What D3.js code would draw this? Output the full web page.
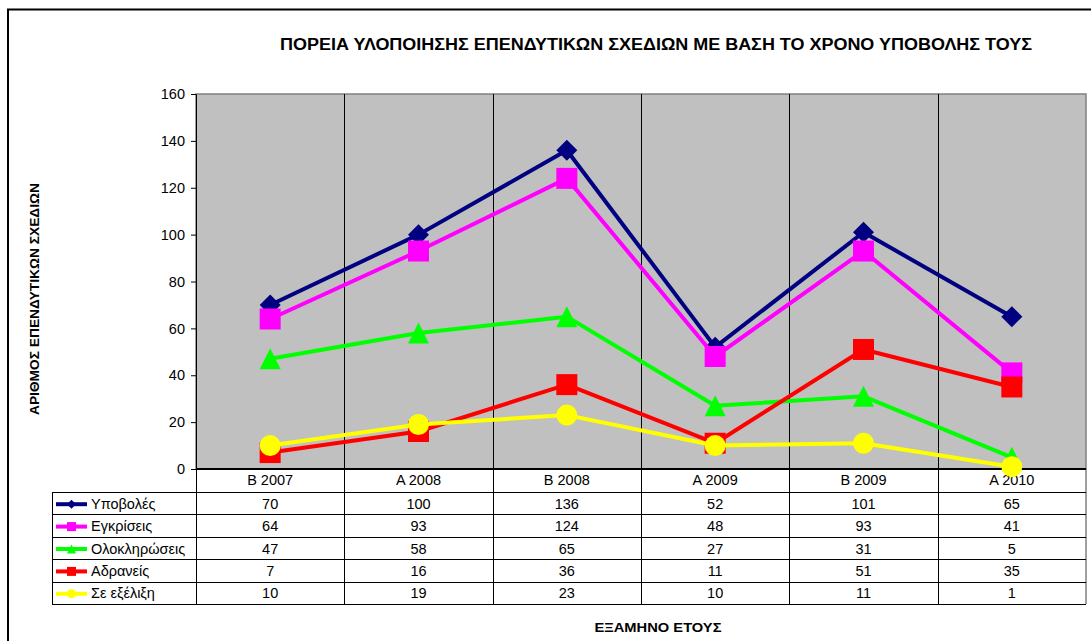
<!DOCTYPE html>
<html>
<head>
<meta charset="utf-8">
<script src="https://cdn.jsdelivr.net/npm/d3@7"></script>
<style>
  html, body { margin: 0; padding: 0; background: #fff; }
  svg { display: block; font-family: "Liberation Sans", Arial, sans-serif; }
</style>
</head>
<body>
<svg id="chart" width="1091" height="641"></svg>
<script>
// Semesters (category axis)
const categories = ["Β 2007", "Α 2008", "Β 2008", "Α 2009", "Β 2009", "Α 2010"];

// Series names, in drawing order
const seriesNames = ["Υποβολές", "Εγκρίσεις", "Ολοκληρώσεις", "Αδρανείς", "Σε εξέλιξη"];

// Series values per semester
const ypovoles     = [70, 100, 136, 52, 101, 65];
const egkriseis    = [64, 93, 124, 48, 93, 41];
const oloklirwseis = [47, 58, 65, 27, 31, 5];
const adraneis     = [7, 16, 36, 11, 51, 35];
const seExelixi    = [10, 19, 23, 10, 11, 1];

// Value axis ticks
const yTicks = [0, 20, 40, 60, 80, 100, 120, 140, 160];

const titleText = "ΠΟΡΕΙΑ ΥΛΟΠΟΙΗΣΗΣ ΕΠΕΝΔΥΤΙΚΩΝ ΣΧΕΔΙΩΝ ΜΕ ΒΑΣΗ ΤΟ ΧΡΟΝΟ ΥΠΟΒΟΛΗΣ ΤΟΥΣ";
const yTitleText = "ΑΡΙΘΜΟΣ ΕΠΕΝΔΥΤΙΚΩΝ ΣΧΕΔΙΩΝ";
const xTitleText = "ΕΞΑΜΗΝΟ ΕΤΟΥΣ";

const seriesValues = [ypovoles, egkriseis, oloklirwseis, adraneis, seExelixi];
const seriesColors = ["#000080", "#FF00FF", "#00FF00", "#FF0000", "#FFFF00"];
const seriesShapes = ["diamond", "square", "triangle", "square", "circle"];

const series = seriesNames.map((name, i) => ({
  name, values: seriesValues[i], color: seriesColors[i], shape: seriesShapes[i]
}));

const svg = d3.select("#chart");
const bodySize = 14.5;

// Layout
const plot = { left: 196, right: 1086, top: 94, bottom: 469 };
const table = { left: 52, top: 492, rowH: 22.4 };

// Outer frame
svg.append("rect")
  .attr("x", 8).attr("y", 9.5)
  .attr("width", 1100).attr("height", 700)
  .attr("fill", "#fff").attr("stroke", "#000").attr("stroke-width", 2);

// Scales
const x = d3.scaleBand().domain(categories).range([plot.left, plot.right]).padding(0);
const y = d3.scaleLinear().domain([0, 160]).range([plot.bottom, plot.top]);
const cx = d => x(d) + x.bandwidth() / 2;

// Plot area background
svg.append("rect")
  .attr("x", plot.left).attr("y", plot.top)
  .attr("width", plot.right - plot.left).attr("height", plot.bottom - plot.top)
  .attr("fill", "#C0C0C0").attr("stroke", "#808080").attr("stroke-width", 1.5);

// Vertical category separators (extend through the table)
const tableBottom = table.top + table.rowH * series.length;
svg.append("g")
  .selectAll("line")
  .data(categories.slice(1))
  .join("line")
  .attr("x1", d => Math.round(x(d)) + 0.5).attr("x2", d => Math.round(x(d)) + 0.5)
  .attr("y1", plot.top).attr("y2", tableBottom)
  .attr("stroke", "#000").attr("stroke-width", 1);

// Y axis
const yAxis = d3.axisLeft(y).tickValues(yTicks).tickSize(5).tickSizeOuter(0).tickPadding(6);
const yG = svg.append("g").attr("transform", `translate(${plot.left},0)`).call(yAxis);
yG.select(".domain").attr("stroke", "#000");
yG.selectAll(".tick line").attr("stroke", "#000");
yG.selectAll("text")
  .attr("font-family", "Liberation Sans, Arial, sans-serif")
  .attr("font-size", bodySize).attr("fill", "#000");

// Category label row + data table grid
const grid = svg.append("g");
grid.append("line")
  .attr("x1", plot.left + 0.5).attr("x2", plot.left + 0.5)
  .attr("y1", plot.bottom).attr("y2", tableBottom)
  .attr("stroke", "#000");
grid.append("line")
  .attr("x1", plot.right).attr("x2", plot.right)
  .attr("y1", plot.bottom).attr("y2", tableBottom)
  .attr("stroke", "#808080").attr("stroke-width", 1.5);
grid.append("line")
  .attr("x1", table.left + 0.5).attr("x2", table.left + 0.5)
  .attr("y1", table.top).attr("y2", tableBottom)
  .attr("stroke", "#000");
grid.selectAll("line.row")
  .data(d3.range(series.length + 1))
  .join("line")
  .attr("class", "row")
  .attr("x1", table.left).attr("x2", plot.right)
  .attr("y1", i => Math.round(table.top + i * table.rowH) + 0.5)
  .attr("y2", i => Math.round(table.top + i * table.rowH) + 0.5)
  .attr("stroke", "#000");

// X axis line
svg.append("line")
  .attr("x1", plot.left).attr("x2", plot.right)
  .attr("y1", plot.bottom).attr("y2", plot.bottom)
  .attr("stroke", "#000").attr("stroke-width", 2);

// Category labels
svg.append("g")
  .selectAll("text")
  .data(categories)
  .join("text")
  .attr("x", d => cx(d))
  .attr("y", plot.bottom + 16)
  .attr("text-anchor", "middle")
  .attr("font-size", bodySize)
  .text(d => d);

// Marker drawing
function drawMarker(g, shape, color, size) {
  const h = size / 2;
  if (shape === "diamond") {
    g.append("path").attr("d", `M0,${-h}L${h},0L0,${h}L${-h},0Z`).attr("fill", color);
  } else if (shape === "square") {
    g.append("rect").attr("x", -h).attr("y", -h).attr("width", size).attr("height", size).attr("fill", color);
  } else if (shape === "triangle") {
    g.append("path").attr("d", `M0,${-h}L${h},${h}L${-h},${h}Z`).attr("fill", color);
  } else {
    g.append("circle").attr("r", h).attr("fill", color);
  }
}

// Series lines and markers
const line = d3.line().x((d, i) => cx(categories[i])).y(d => y(d));
series.forEach(s => {
  const g = svg.append("g");
  g.append("path")
    .datum(s.values)
    .attr("d", line)
    .attr("fill", "none")
    .attr("stroke", s.color)
    .attr("stroke-width", 4)
    .attr("stroke-linejoin", "round");
  s.values.forEach((v, i) => {
    const m = g.append("g").attr("transform", `translate(${cx(categories[i])},${y(v)})`);
    drawMarker(m, s.shape, s.color, 21);
  });
});

// Table rows: legend keys, names and values
series.forEach((s, r) => {
  const rowY = table.top + r * table.rowH;
  const midY = rowY + table.rowH / 2;
  const key = svg.append("g");
  key.append("line")
    .attr("x1", 56).attr("x2", 87)
    .attr("y1", midY + 1).attr("y2", midY + 1)
    .attr("stroke", s.color).attr("stroke-width", 4);
  const km = key.append("g").attr("transform", `translate(71.5,${midY + 1})`);
  drawMarker(km, s.shape, s.color, 9);
  svg.append("text")
    .attr("x", 91).attr("y", midY + 5.5)
    .attr("font-size", bodySize)
    .text(s.name);
  svg.append("g")
    .selectAll("text")
    .data(s.values)
    .join("text")
    .attr("x", (d, i) => cx(categories[i]))
    .attr("y", midY + 5.5)
    .attr("text-anchor", "middle")
    .attr("font-size", bodySize)
    .text(d => d);
});

// Titles (bold headings drawn in a slightly wide face)
svg.append("text")
  .attr("x", 656).attr("y", 50)
  .attr("text-anchor", "middle")
  .attr("font-size", 16)
  .attr("font-weight", "bold")
  .attr("textLength", 752)
  .attr("lengthAdjust", "spacingAndGlyphs")
  .text(titleText);

svg.append("text")
  .attr("transform", "translate(39,299) rotate(-90)")
  .attr("text-anchor", "middle")
  .attr("font-size", 12.5)
  .attr("font-weight", "bold")
  .attr("textLength", 232)
  .attr("lengthAdjust", "spacingAndGlyphs")
  .text(yTitleText);

svg.append("text")
  .attr("x", 658).attr("y", 632)
  .attr("text-anchor", "middle")
  .attr("font-size", 13)
  .attr("font-weight", "bold")
  .attr("textLength", 127)
  .attr("lengthAdjust", "spacingAndGlyphs")
  .text(xTitleText);
</script>
</body>
</html>
